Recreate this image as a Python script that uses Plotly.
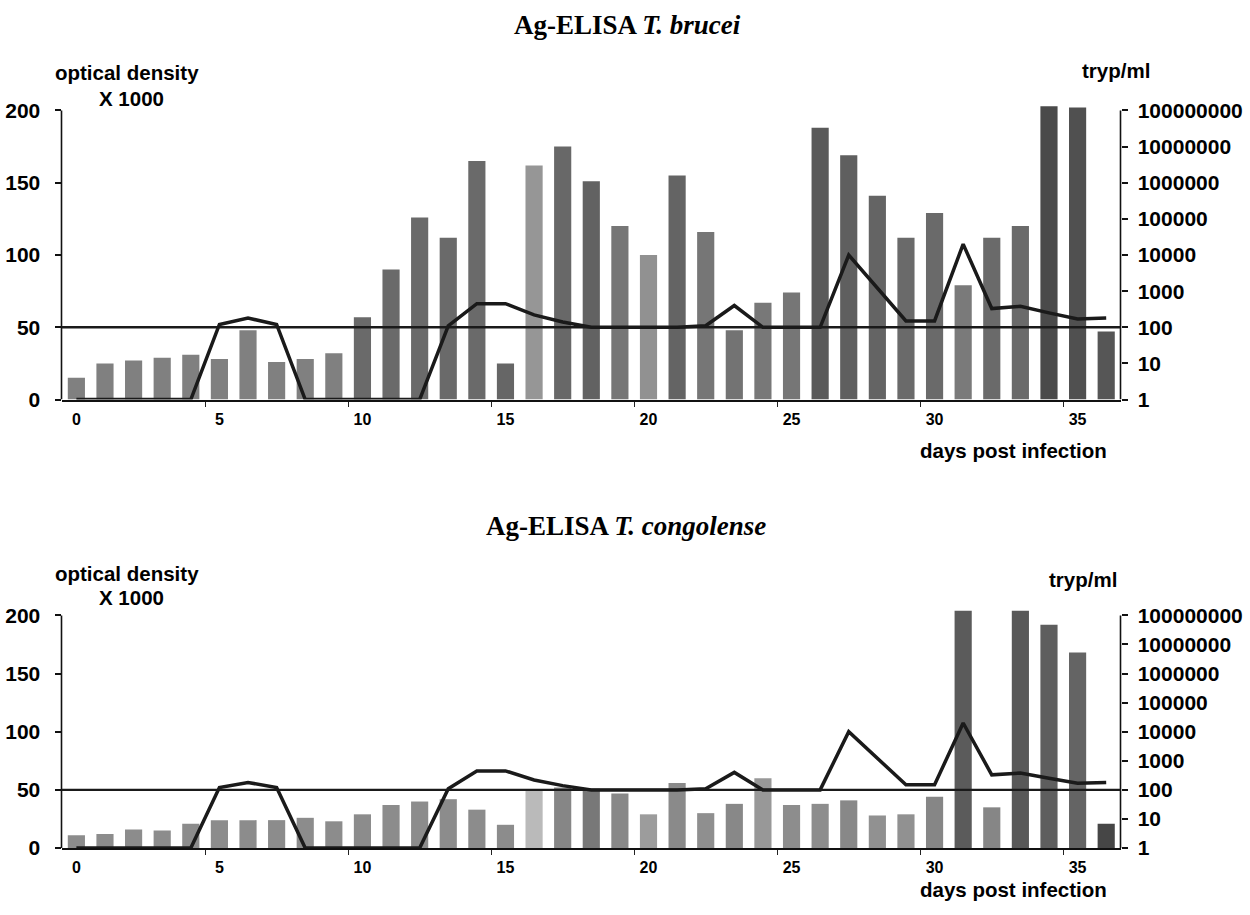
import plotly.graph_objects as go

# Days post infection
days = list(range(37))

# Antigen ELISA optical density (x 1000), T. brucei
od_brucei = [15, 25, 27, 29, 31, 28, 48, 26, 28, 32, 57, 90, 126, 112, 165, 25,
             162, 175, 151, 120, 100, 155, 116, 48, 67, 74, 188, 169, 141, 112,
             129, 79, 112, 120, 203, 202, 47]

# Antigen ELISA optical density (x 1000), T. congolense
od_congolense = [11, 12, 16, 15, 21, 24, 24, 24, 26, 23, 29, 37, 40, 42, 33, 20,
                 49, 52, 51, 47, 29, 56, 30, 38, 60, 37, 38, 41, 28, 29, 44, 204,
                 35, 204, 192, 168, 21]

# Parasitaemia (trypanosomes per ml)
tryp_per_ml = [1, 1, 1, 1, 1, 120, 180, 120, 1, 1, 1, 1, 1, 110, 450, 450, 220,
               140, 100, 100, 100, 100, 110, 400, 100, 100, 100, 10000, 1200, 150,
               150, 20000, 330, 380, 250, 170, 180]

cutoff_od = 50
od_ticks = [0, 50, 100, 150, 200]
tryp_ticks = [1, 10, 100, 1000, 10000, 100000, 1000000, 10000000, 100000000]
day_ticks = [0, 5, 10, 15, 20, 25, 30, 35]
day_gridmarks = [4.5, 9.5, 14.5, 19.5, 24.5, 29.5, 34.5]

# Grey shades of the printed bars
shades_top = (["#808080"] * 10 + ["#6a6a6a"] * 5 +
              ["#666666", "#969696", "#686868", "#626262", "#767676", "#919191",
               "#646464", "#767676", "#737373", "#787878", "#767676", "#5a5a5a",
               "#5f5f5f", "#646464", "#6a6a6a", "#6a6a6a", "#7a7a7a", "#6a6a6a",
               "#6a6a6a", "#4a4a4a", "#505050", "#565656"])
shades_bottom = (["#8c8c8c"] * 16 +
                 ["#bababa", "#868686", "#787878", "#888888", "#9c9c9c", "#8a8a8a",
                  "#8f8f8f", "#888888", "#989898", "#8d8d8d", "#8d8d8d", "#888888",
                  "#919191", "#919191", "#868686", "#5b5b5b", "#868686", "#585858",
                  "#5e5e5e", "#646464", "#464646"])

SANS = "Liberation Sans, Arial, sans-serif"
SERIF = "Liberation Serif, Times New Roman, serif"
OD_MAX = 205
LOG_MAX = 8 * OD_MAX / 200

fig = go.Figure()

panels = [
    dict(od=od_brucei, shades=shades_top, x="x", y="y", y2="y2"),
    dict(od=od_congolense, shades=shades_bottom, x="x2", y="y3", y2="y4"),
]
for p in panels:
    fig.add_trace(go.Bar(x=days, y=p["od"], marker=dict(color=p["shades"], line_width=0),
                         xaxis=p["x"], yaxis=p["y"], showlegend=False))
    fig.add_trace(go.Scatter(x=days, y=tryp_per_ml, mode="lines",
                             line=dict(color="#1a1a1a", width=3.5),
                             xaxis=p["x"], yaxis=p["y2"], cliponaxis=False,
                             showlegend=False))

xdom = [61.5 / 1250, 1120.5 / 1250]
xaxis_common = dict(
    domain=xdom, range=[-0.52, 36.5], tickmode="array", tickvals=day_ticks,
    ticks="", showgrid=False, zeroline=False, showline=True, linecolor="#111",
    linewidth=2, tickfont=dict(family=SANS, size=16, color="black", weight="bold"),
    ticklabelstandoff=4,
    minor=dict(tickmode="array", tickvals=day_gridmarks, ticks="outside",
               ticklen=5, tickcolor="#222", tickwidth=1.2, showgrid=False),
)
yleft_common = dict(
    range=[0, OD_MAX], tickmode="array", tickvals=od_ticks, ticks="outside",
    ticklen=6, tickcolor="#111", tickwidth=1.5, showgrid=False, zeroline=False,
    showline=False, tickfont=dict(family=SANS, size=21, color="black", weight="bold"),
    ticklabelstandoff=10,
)
yright_common = dict(
    type="log", range=[0, LOG_MAX], tickmode="array", tickvals=tryp_ticks,
    ticktext=[str(v) for v in tryp_ticks], side="right", ticks="outside",
    ticklen=6, tickcolor="#111", tickwidth=1.5, showgrid=False, zeroline=False,
    showline=False, tickfont=dict(family=SANS, size=21, color="black", weight="bold"),
    ticklabelstandoff=6,
)

top_dom = [1 - 401 / 915, 1 - 99.1 / 915]
bot_dom = [1 - 858 / 915, 1 - 615 / 915]

fig.update_layout(
    xaxis=dict(anchor="y", **xaxis_common),
    xaxis2=dict(anchor="y3", **xaxis_common),
    yaxis=dict(domain=top_dom, anchor="x", **yleft_common),
    yaxis2=dict(overlaying="y", anchor="x", **yright_common),
    yaxis3=dict(domain=bot_dom, anchor="x2", **yleft_common),
    yaxis4=dict(overlaying="y3", anchor="x2", **yright_common),
    bargap=0.4,
    width=1250, height=915,
    margin=dict(l=0, r=0, t=0, b=0),
    paper_bgcolor="white", plot_bgcolor="white",
)

# Axis lines, 0-200 only, and the 50 OD cut-off line
for xr, yr in (("x", "y"), ("x2", "y3")):
    for xpos in (0, 1):
        fig.add_shape(type="line", xref=f"{xr} domain", yref=yr, x0=xpos, x1=xpos,
                      y0=0, y1=200, line=dict(color="#111", width=1.6))
    fig.add_shape(type="line", xref=f"{xr} domain", yref=yr, x0=0, x1=1,
                  y0=cutoff_od, y1=cutoff_od, line=dict(color="#1a1a1a", width=2.4))

def label(text, x, y, size, family=SANS, anchor="center"):
    fig.add_annotation(text=text, x=x / 1250, y=1 - y / 915, xref="paper", yref="paper",
                       showarrow=False, xanchor=anchor, yanchor="middle",
                       font=dict(family=family, size=size, color="black"))

label("<b>Ag-ELISA <i>T. brucei</i></b>", 627, 19, 27, family=SERIF)
label("<b>Ag-ELISA <i>T. congolense</i></b>", 626, 530, 27, family=SERIF)

for oy, xy, ty, dy in ((68, 94, 66, 453), (578, 603, 584, 900)):
    label("<b>optical density</b>", 127, oy, 20.5)
    label("<b>X 1000</b>", 131, xy, 20.5)
    label("<b>tryp/ml</b>", 1116 if oy < 100 else 1083, ty, 20.5)
    label("<b>days post infection</b>", 1013, dy, 20.5)

fig.write_html("out.html")
